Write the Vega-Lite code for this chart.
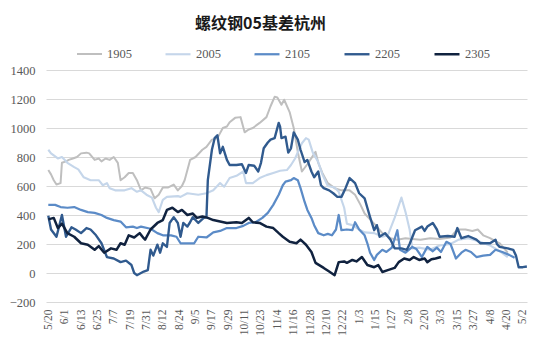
{
  "$schema": "https://vega.github.io/schema/vega-lite/v6.json",
  "width": 481,
  "height": 232,
  "autosize": {"type": "none"},
  "padding": {"left": 46, "top": 70, "right": 23, "bottom": 55},
  "background": "white",
  "title": {
    "text": "螺纹钢05基差杭州",
    "font": "Noto Sans CJK SC",
    "fontSize": 16,
    "fontWeight": "bold",
    "color": "#1a1a1a",
    "anchor": "middle",
    "dx": -26,
    "offset": 8
  },
  "data": {
    "values": [
      {"s":"1905","date":"2019-05-20","v":710},{"s":"1905","date":"2019-05-22","v":680},{"s":"1905","date":"2019-05-24","v":640},{"s":"1905","date":"2019-05-26","v":610},{"s":"1905","date":"2019-05-29","v":620},{"s":"1905","date":"2019-05-30","v":760},{"s":"1905","date":"2019-06-02","v":770},{"s":"1905","date":"2019-06-04","v":780},{"s":"1905","date":"2019-06-07","v":790},{"s":"1905","date":"2019-06-10","v":800},{"s":"1905","date":"2019-06-13","v":825},{"s":"1905","date":"2019-06-17","v":830},{"s":"1905","date":"2019-06-19","v":825},{"s":"1905","date":"2019-06-23","v":780},{"s":"1905","date":"2019-06-26","v":790},{"s":"1905","date":"2019-06-28","v":770},{"s":"1905","date":"2019-07-01","v":790},{"s":"1905","date":"2019-07-04","v":780},{"s":"1905","date":"2019-07-07","v":800},{"s":"1905","date":"2019-07-10","v":760},{"s":"1905","date":"2019-07-12","v":640},{"s":"1905","date":"2019-07-15","v":660},{"s":"1905","date":"2019-07-18","v":690},{"s":"1905","date":"2019-07-21","v":690},{"s":"1905","date":"2019-07-24","v":640},{"s":"1905","date":"2019-07-27","v":570},{"s":"1905","date":"2019-07-30","v":590},{"s":"1905","date":"2019-08-03","v":580},{"s":"1905","date":"2019-08-06","v":515},{"s":"1905","date":"2019-08-09","v":540},{"s":"1905","date":"2019-08-12","v":590},{"s":"1905","date":"2019-08-16","v":590},{"s":"1905","date":"2019-08-20","v":610},{"s":"1905","date":"2019-08-23","v":570},{"s":"1905","date":"2019-08-26","v":600},{"s":"1905","date":"2019-08-28","v":640},{"s":"1905","date":"2019-09-01","v":780},{"s":"1905","date":"2019-09-05","v":800},{"s":"1905","date":"2019-09-10","v":850},{"s":"1905","date":"2019-09-13","v":870},{"s":"1905","date":"2019-09-17","v":920},{"s":"1905","date":"2019-09-21","v":930},{"s":"1905","date":"2019-09-25","v":1000},{"s":"1905","date":"2019-09-28","v":1010},{"s":"1905","date":"2019-09-30","v":1040},{"s":"1905","date":"2019-10-04","v":1070},{"s":"1905","date":"2019-10-08","v":1075},{"s":"1905","date":"2019-10-11","v":970},{"s":"1905","date":"2019-10-14","v":990},{"s":"1905","date":"2019-10-17","v":1000},{"s":"1905","date":"2019-10-22","v":1035},{"s":"1905","date":"2019-10-27","v":1075},{"s":"1905","date":"2019-10-30","v":1150},{"s":"1905","date":"2019-11-02","v":1215},{"s":"1905","date":"2019-11-04","v":1210},{"s":"1905","date":"2019-11-07","v":1160},{"s":"1905","date":"2019-11-09","v":1195},{"s":"1905","date":"2019-11-13","v":1110},{"s":"1905","date":"2019-11-16","v":1000},{"s":"1905","date":"2019-11-19","v":835},{"s":"1905","date":"2019-11-22","v":700},{"s":"1905","date":"2019-11-26","v":750},{"s":"1905","date":"2019-12-02","v":835},{"s":"1905","date":"2019-12-04","v":760},{"s":"1905","date":"2019-12-07","v":690},{"s":"1905","date":"2019-12-11","v":620},{"s":"1905","date":"2019-12-16","v":585},{"s":"1905","date":"2019-12-21","v":570},{"s":"1905","date":"2019-12-27","v":570},{"s":"1905","date":"2019-12-31","v":540},{"s":"1905","date":"2020-01-04","v":470},{"s":"1905","date":"2020-01-07","v":410},{"s":"1905","date":"2020-01-11","v":370},{"s":"1905","date":"2020-01-15","v":330},{"s":"1905","date":"2020-01-20","v":275},{"s":"1905","date":"2020-01-26","v":240},{"s":"1905","date":"2020-01-31","v":230},{"s":"1905","date":"2020-02-06","v":240},{"s":"1905","date":"2020-02-11","v":235},{"s":"1905","date":"2020-02-17","v":230},{"s":"1905","date":"2020-02-24","v":240},{"s":"1905","date":"2020-03-02","v":235},{"s":"1905","date":"2020-03-10","v":245},{"s":"1905","date":"2020-03-15","v":300},{"s":"1905","date":"2020-03-21","v":300},{"s":"1905","date":"2020-03-26","v":290},{"s":"1905","date":"2020-03-30","v":300},{"s":"1905","date":"2020-04-03","v":260},{"s":"1905","date":"2020-04-08","v":240},{"s":"1905","date":"2020-04-15","v":205},{"s":"1905","date":"2020-04-21","v":140},

      {"s":"2005","date":"2019-05-20","v":850},{"s":"2005","date":"2019-05-22","v":825},{"s":"2005","date":"2019-05-27","v":790},{"s":"2005","date":"2019-05-30","v":800},{"s":"2005","date":"2019-06-03","v":760},{"s":"2005","date":"2019-06-08","v":730},{"s":"2005","date":"2019-06-11","v":715},{"s":"2005","date":"2019-06-15","v":660},{"s":"2005","date":"2019-06-20","v":640},{"s":"2005","date":"2019-06-26","v":640},{"s":"2005","date":"2019-06-29","v":605},{"s":"2005","date":"2019-07-02","v":620},{"s":"2005","date":"2019-07-04","v":585},{"s":"2005","date":"2019-07-08","v":570},{"s":"2005","date":"2019-07-15","v":570},{"s":"2005","date":"2019-07-20","v":585},{"s":"2005","date":"2019-07-24","v":560},{"s":"2005","date":"2019-07-27","v":570},{"s":"2005","date":"2019-07-31","v":540},{"s":"2005","date":"2019-08-04","v":520},{"s":"2005","date":"2019-08-07","v":450},{"s":"2005","date":"2019-08-09","v":420},{"s":"2005","date":"2019-08-12","v":505},{"s":"2005","date":"2019-08-15","v":525},{"s":"2005","date":"2019-08-23","v":530},{"s":"2005","date":"2019-08-25","v":525},{"s":"2005","date":"2019-08-30","v":550},{"s":"2005","date":"2019-09-07","v":540},{"s":"2005","date":"2019-09-13","v":550},{"s":"2005","date":"2019-09-18","v":570},{"s":"2005","date":"2019-09-23","v":620},{"s":"2005","date":"2019-09-26","v":595},{"s":"2005","date":"2019-09-30","v":655},{"s":"2005","date":"2019-10-05","v":670},{"s":"2005","date":"2019-10-10","v":700},{"s":"2005","date":"2019-10-12","v":620},{"s":"2005","date":"2019-10-17","v":620},{"s":"2005","date":"2019-10-22","v":655},{"s":"2005","date":"2019-10-27","v":675},{"s":"2005","date":"2019-11-01","v":690},{"s":"2005","date":"2019-11-06","v":705},{"s":"2005","date":"2019-11-11","v":710},{"s":"2005","date":"2019-11-14","v":745},{"s":"2005","date":"2019-11-17","v":790},{"s":"2005","date":"2019-11-22","v":895},{"s":"2005","date":"2019-11-25","v":930},{"s":"2005","date":"2019-11-27","v":920},{"s":"2005","date":"2019-11-30","v":830},{"s":"2005","date":"2019-12-04","v":765},{"s":"2005","date":"2019-12-07","v":680},{"s":"2005","date":"2019-12-11","v":600},{"s":"2005","date":"2019-12-16","v":590},{"s":"2005","date":"2019-12-19","v":560},{"s":"2005","date":"2019-12-23","v":450},{"s":"2005","date":"2019-12-25","v":340},{"s":"2005","date":"2019-12-29","v":330},{"s":"2005","date":"2020-01-03","v":300},{"s":"2005","date":"2020-01-07","v":280},{"s":"2005","date":"2020-01-14","v":275},{"s":"2005","date":"2020-01-20","v":250},{"s":"2005","date":"2020-01-24","v":260},{"s":"2005","date":"2020-01-29","v":380},{"s":"2005","date":"2020-02-03","v":520},{"s":"2005","date":"2020-02-06","v":420},{"s":"2005","date":"2020-02-09","v":300},{"s":"2005","date":"2020-02-11","v":170},{"s":"2005","date":"2020-02-16","v":175},{"s":"2005","date":"2020-02-24","v":160},{"s":"2005","date":"2020-03-02","v":190},{"s":"2005","date":"2020-03-10","v":200},{"s":"2005","date":"2020-03-16","v":230},{"s":"2005","date":"2020-03-23","v":240},{"s":"2005","date":"2020-03-30","v":220},{"s":"2005","date":"2020-04-08","v":190},{"s":"2005","date":"2020-04-15","v":150},{"s":"2005","date":"2020-04-21","v":110},

      {"s":"2105","date":"2019-05-20","v":470},{"s":"2105","date":"2019-05-25","v":470},{"s":"2105","date":"2019-05-29","v":455},{"s":"2105","date":"2019-06-03","v":450},{"s":"2105","date":"2019-06-08","v":455},{"s":"2105","date":"2019-06-13","v":435},{"s":"2105","date":"2019-06-18","v":420},{"s":"2105","date":"2019-06-23","v":415},{"s":"2105","date":"2019-06-28","v":400},{"s":"2105","date":"2019-07-02","v":380},{"s":"2105","date":"2019-07-07","v":365},{"s":"2105","date":"2019-07-12","v":355},{"s":"2105","date":"2019-07-16","v":315},{"s":"2105","date":"2019-07-21","v":320},{"s":"2105","date":"2019-07-24","v":310},{"s":"2105","date":"2019-07-27","v":320},{"s":"2105","date":"2019-08-03","v":305},{"s":"2105","date":"2019-08-08","v":275},{"s":"2105","date":"2019-08-12","v":260},{"s":"2105","date":"2019-08-18","v":260},{"s":"2105","date":"2019-08-22","v":250},{"s":"2105","date":"2019-08-25","v":205},{"s":"2105","date":"2019-08-30","v":205},{"s":"2105","date":"2019-09-04","v":205},{"s":"2105","date":"2019-09-07","v":250},{"s":"2105","date":"2019-09-13","v":245},{"s":"2105","date":"2019-09-18","v":280},{"s":"2105","date":"2019-09-23","v":290},{"s":"2105","date":"2019-09-28","v":310},{"s":"2105","date":"2019-10-05","v":310},{"s":"2105","date":"2019-10-10","v":325},{"s":"2105","date":"2019-10-14","v":345},{"s":"2105","date":"2019-10-19","v":350},{"s":"2105","date":"2019-10-24","v":380},{"s":"2105","date":"2019-10-28","v":415},{"s":"2105","date":"2019-11-01","v":470},{"s":"2105","date":"2019-11-05","v":540},{"s":"2105","date":"2019-11-08","v":605},{"s":"2105","date":"2019-11-10","v":630},{"s":"2105","date":"2019-11-14","v":640},{"s":"2105","date":"2019-11-16","v":655},{"s":"2105","date":"2019-11-19","v":640},{"s":"2105","date":"2019-11-21","v":585},{"s":"2105","date":"2019-11-24","v":490},{"s":"2105","date":"2019-11-26","v":435},{"s":"2105","date":"2019-11-29","v":380},{"s":"2105","date":"2019-12-01","v":330},{"s":"2105","date":"2019-12-04","v":275},{"s":"2105","date":"2019-12-08","v":260},{"s":"2105","date":"2019-12-11","v":270},{"s":"2105","date":"2019-12-14","v":260},{"s":"2105","date":"2019-12-17","v":300},{"s":"2105","date":"2019-12-19","v":400},{"s":"2105","date":"2019-12-21","v":295},{"s":"2105","date":"2019-12-25","v":300},{"s":"2105","date":"2019-12-29","v":295},{"s":"2105","date":"2019-12-31","v":350},{"s":"2105","date":"2020-01-03","v":300},{"s":"2105","date":"2020-01-07","v":260},{"s":"2105","date":"2020-01-09","v":205},{"s":"2105","date":"2020-01-11","v":140},{"s":"2105","date":"2020-01-14","v":90},{"s":"2105","date":"2020-01-16","v":125},{"s":"2105","date":"2020-01-20","v":160},{"s":"2105","date":"2020-01-23","v":145},{"s":"2105","date":"2020-01-27","v":175},{"s":"2105","date":"2020-01-31","v":295},{"s":"2105","date":"2020-02-02","v":160},{"s":"2105","date":"2020-02-06","v":140},{"s":"2105","date":"2020-02-11","v":180},{"s":"2105","date":"2020-02-14","v":165},{"s":"2105","date":"2020-02-18","v":110},{"s":"2105","date":"2020-02-22","v":180},{"s":"2105","date":"2020-02-26","v":150},{"s":"2105","date":"2020-02-29","v":175},{"s":"2105","date":"2020-03-03","v":145},{"s":"2105","date":"2020-03-07","v":215},{"s":"2105","date":"2020-03-10","v":200},{"s":"2105","date":"2020-03-14","v":100},{"s":"2105","date":"2020-03-18","v":140},{"s":"2105","date":"2020-03-21","v":160},{"s":"2105","date":"2020-03-25","v":145},{"s":"2105","date":"2020-03-29","v":110},{"s":"2105","date":"2020-04-03","v":120},{"s":"2105","date":"2020-04-08","v":125},{"s":"2105","date":"2020-04-12","v":160},{"s":"2105","date":"2020-04-17","v":145},{"s":"2105","date":"2020-04-22","v":125},{"s":"2105","date":"2020-04-26","v":105},

      {"s":"2205","date":"2019-05-20","v":395},{"s":"2205","date":"2019-05-22","v":300},{"s":"2205","date":"2019-05-26","v":250},{"s":"2205","date":"2019-05-30","v":400},{"s":"2205","date":"2019-06-02","v":250},{"s":"2205","date":"2019-06-06","v":315},{"s":"2205","date":"2019-06-09","v":300},{"s":"2205","date":"2019-06-13","v":275},{"s":"2205","date":"2019-06-17","v":310},{"s":"2205","date":"2019-06-20","v":300},{"s":"2205","date":"2019-06-24","v":260},{"s":"2205","date":"2019-06-28","v":205},{"s":"2205","date":"2019-07-02","v":110},{"s":"2205","date":"2019-07-07","v":100},{"s":"2205","date":"2019-07-12","v":75},{"s":"2205","date":"2019-07-16","v":85},{"s":"2205","date":"2019-07-20","v":55},{"s":"2205","date":"2019-07-22","v":0},{"s":"2205","date":"2019-07-24","v":-15},{"s":"2205","date":"2019-07-29","v":10},{"s":"2205","date":"2019-08-01","v":20},{"s":"2205","date":"2019-08-03","v":160},{"s":"2205","date":"2019-08-05","v":120},{"s":"2205","date":"2019-08-08","v":195},{"s":"2205","date":"2019-08-10","v":140},{"s":"2205","date":"2019-08-12","v":205},{"s":"2205","date":"2019-08-15","v":180},{"s":"2205","date":"2019-08-17","v":345},{"s":"2205","date":"2019-08-20","v":385},{"s":"2205","date":"2019-08-23","v":345},{"s":"2205","date":"2019-08-25","v":250},{"s":"2205","date":"2019-08-27","v":345},{"s":"2205","date":"2019-08-30","v":320},{"s":"2205","date":"2019-09-01","v":350},{"s":"2205","date":"2019-09-03","v":385},{"s":"2205","date":"2019-09-07","v":345},{"s":"2205","date":"2019-09-11","v":380},{"s":"2205","date":"2019-09-13","v":385},{"s":"2205","date":"2019-09-14","v":640},{"s":"2205","date":"2019-09-17","v":850},{"s":"2205","date":"2019-09-19","v":930},{"s":"2205","date":"2019-09-21","v":950},{"s":"2205","date":"2019-09-23","v":825},{"s":"2205","date":"2019-09-25","v":870},{"s":"2205","date":"2019-09-28","v":780},{"s":"2205","date":"2019-09-30","v":745},{"s":"2205","date":"2019-10-05","v":745},{"s":"2205","date":"2019-10-09","v":750},{"s":"2205","date":"2019-10-12","v":690},{"s":"2205","date":"2019-10-14","v":745},{"s":"2205","date":"2019-10-18","v":740},{"s":"2205","date":"2019-10-21","v":700},{"s":"2205","date":"2019-10-23","v":760},{"s":"2205","date":"2019-10-25","v":860},{"s":"2205","date":"2019-10-28","v":900},{"s":"2205","date":"2019-10-30","v":920},{"s":"2205","date":"2019-11-02","v":930},{"s":"2205","date":"2019-11-05","v":1035},{"s":"2205","date":"2019-11-06","v":1010},{"s":"2205","date":"2019-11-07","v":930},{"s":"2205","date":"2019-11-10","v":940},{"s":"2205","date":"2019-11-12","v":830},{"s":"2205","date":"2019-11-14","v":860},{"s":"2205","date":"2019-11-16","v":970},{"s":"2205","date":"2019-11-19","v":920},{"s":"2205","date":"2019-11-21","v":850},{"s":"2205","date":"2019-11-24","v":765},{"s":"2205","date":"2019-11-26","v":780},{"s":"2205","date":"2019-11-29","v":700},{"s":"2205","date":"2019-12-01","v":660},{"s":"2205","date":"2019-12-04","v":700},{"s":"2205","date":"2019-12-06","v":605},{"s":"2205","date":"2019-12-08","v":585},{"s":"2205","date":"2019-12-12","v":570},{"s":"2205","date":"2019-12-15","v":550},{"s":"2205","date":"2019-12-18","v":525},{"s":"2205","date":"2019-12-21","v":525},{"s":"2205","date":"2019-12-24","v":585},{"s":"2205","date":"2019-12-27","v":655},{"s":"2205","date":"2019-12-31","v":620},{"s":"2205","date":"2020-01-03","v":550},{"s":"2205","date":"2020-01-07","v":515},{"s":"2205","date":"2020-01-09","v":450},{"s":"2205","date":"2020-01-11","v":385},{"s":"2205","date":"2020-01-14","v":295},{"s":"2205","date":"2020-01-16","v":330},{"s":"2205","date":"2020-01-18","v":250},{"s":"2205","date":"2020-01-22","v":275},{"s":"2205","date":"2020-01-26","v":230},{"s":"2205","date":"2020-01-29","v":170},{"s":"2205","date":"2020-02-03","v":170},{"s":"2205","date":"2020-02-07","v":160},{"s":"2205","date":"2020-02-09","v":200},{"s":"2205","date":"2020-02-13","v":295},{"s":"2205","date":"2020-02-18","v":320},{"s":"2205","date":"2020-02-20","v":290},{"s":"2205","date":"2020-02-22","v":320},{"s":"2205","date":"2020-02-26","v":345},{"s":"2205","date":"2020-02-29","v":300},{"s":"2205","date":"2020-03-02","v":250},{"s":"2205","date":"2020-03-08","v":255},{"s":"2205","date":"2020-03-13","v":250},{"s":"2205","date":"2020-03-15","v":310},{"s":"2205","date":"2020-03-18","v":240},{"s":"2205","date":"2020-03-23","v":255},{"s":"2205","date":"2020-03-29","v":230},{"s":"2205","date":"2020-04-01","v":205},{"s":"2205","date":"2020-04-08","v":205},{"s":"2205","date":"2020-04-12","v":230},{"s":"2205","date":"2020-04-13","v":200},{"s":"2205","date":"2020-04-15","v":180},{"s":"2205","date":"2020-04-21","v":170},{"s":"2205","date":"2020-04-25","v":160},{"s":"2205","date":"2020-04-27","v":120},{"s":"2205","date":"2020-04-29","v":40},{"s":"2205","date":"2020-05-02","v":40},{"s":"2205","date":"2020-05-05","v":45},

      {"s":"2305","date":"2019-05-20","v":370},{"s":"2305","date":"2019-05-24","v":380},{"s":"2305","date":"2019-05-27","v":310},{"s":"2305","date":"2019-05-30","v":340},{"s":"2305","date":"2019-06-03","v":275},{"s":"2305","date":"2019-06-08","v":250},{"s":"2305","date":"2019-06-13","v":205},{"s":"2305","date":"2019-06-18","v":195},{"s":"2305","date":"2019-06-23","v":160},{"s":"2305","date":"2019-06-26","v":185},{"s":"2305","date":"2019-06-30","v":140},{"s":"2305","date":"2019-07-05","v":170},{"s":"2305","date":"2019-07-09","v":160},{"s":"2305","date":"2019-07-12","v":205},{"s":"2305","date":"2019-07-15","v":195},{"s":"2305","date":"2019-07-18","v":260},{"s":"2305","date":"2019-07-22","v":245},{"s":"2305","date":"2019-07-26","v":275},{"s":"2305","date":"2019-07-29","v":240},{"s":"2305","date":"2019-07-30","v":230},{"s":"2305","date":"2019-08-03","v":300},{"s":"2305","date":"2019-08-08","v":345},{"s":"2305","date":"2019-08-12","v":365},{"s":"2305","date":"2019-08-15","v":435},{"s":"2305","date":"2019-08-19","v":450},{"s":"2305","date":"2019-08-23","v":420},{"s":"2305","date":"2019-08-26","v":435},{"s":"2305","date":"2019-08-30","v":400},{"s":"2305","date":"2019-09-03","v":410},{"s":"2305","date":"2019-09-06","v":380},{"s":"2305","date":"2019-09-10","v":390},{"s":"2305","date":"2019-09-14","v":380},{"s":"2305","date":"2019-09-18","v":365},{"s":"2305","date":"2019-09-23","v":355},{"s":"2305","date":"2019-09-28","v":345},{"s":"2305","date":"2019-10-05","v":350},{"s":"2305","date":"2019-10-09","v":345},{"s":"2305","date":"2019-10-14","v":380},{"s":"2305","date":"2019-10-17","v":350},{"s":"2305","date":"2019-10-22","v":345},{"s":"2305","date":"2019-10-27","v":320},{"s":"2305","date":"2019-11-01","v":310},{"s":"2305","date":"2019-11-05","v":275},{"s":"2305","date":"2019-11-08","v":250},{"s":"2305","date":"2019-11-13","v":215},{"s":"2305","date":"2019-11-18","v":205},{"s":"2305","date":"2019-11-21","v":230},{"s":"2305","date":"2019-11-25","v":195},{"s":"2305","date":"2019-11-29","v":145},{"s":"2305","date":"2019-12-02","v":70},{"s":"2305","date":"2019-12-08","v":35},{"s":"2305","date":"2019-12-12","v":10},{"s":"2305","date":"2019-12-16","v":-15},{"s":"2305","date":"2019-12-19","v":75},{"s":"2305","date":"2019-12-23","v":80},{"s":"2305","date":"2019-12-25","v":70},{"s":"2305","date":"2019-12-29","v":90},{"s":"2305","date":"2020-01-01","v":80},{"s":"2305","date":"2020-01-05","v":110},{"s":"2305","date":"2020-01-09","v":55},{"s":"2305","date":"2020-01-14","v":40},{"s":"2305","date":"2020-01-17","v":55},{"s":"2305","date":"2020-01-20","v":7},{"s":"2305","date":"2020-01-24","v":20},{"s":"2305","date":"2020-01-29","v":35},{"s":"2305","date":"2020-02-01","v":75},{"s":"2305","date":"2020-02-05","v":100},{"s":"2305","date":"2020-02-09","v":90},{"s":"2305","date":"2020-02-12","v":110},{"s":"2305","date":"2020-02-16","v":90},{"s":"2305","date":"2020-02-20","v":100},{"s":"2305","date":"2020-02-22","v":75},{"s":"2305","date":"2020-02-25","v":95},{"s":"2305","date":"2020-02-28","v":100},{"s":"2305","date":"2020-03-03","v":110}
    ]
  },
  "mark": {"type": "line", "strokeJoin": "round", "interpolate": "linear"},
  "encoding": {
    "x": {
      "field": "date",
      "type": "temporal",
      "scale": {
        "type": "utc",
        "domain": [
          {"year": 2019, "month": 5, "date": 18, "hours": 7, "minutes": 30, "utc": true},
          {"year": 2020, "month": 5, "date": 5, "hours": 2, "minutes": 24, "utc": true}
        ]
      },
      "axis": {
        "title": null,
        "grid": false,
        "domain": false,
        "ticks": false,
        "labelAngle": 270,
        "labelAlign": "right",
        "labelBaseline": "middle",
        "labelPadding": 7,
        "labelFont": "Times New Roman, Liberation Serif, serif",
        "labelFontSize": 11.5,
        "labelColor": "#595959",
        "labelOverlap": false,
        "labelFlush": false,
        "labelExpr": "utcFormat(datum.value, '%-m/%-d')",
        "values": [
          {"year": 2019, "month": 5, "date": 20, "utc": true},
          {"year": 2019, "month": 6, "date": 1, "utc": true},
          {"year": 2019, "month": 6, "date": 13, "utc": true},
          {"year": 2019, "month": 6, "date": 25, "utc": true},
          {"year": 2019, "month": 7, "date": 7, "utc": true},
          {"year": 2019, "month": 7, "date": 19, "utc": true},
          {"year": 2019, "month": 7, "date": 31, "utc": true},
          {"year": 2019, "month": 8, "date": 12, "utc": true},
          {"year": 2019, "month": 8, "date": 24, "utc": true},
          {"year": 2019, "month": 9, "date": 5, "utc": true},
          {"year": 2019, "month": 9, "date": 17, "utc": true},
          {"year": 2019, "month": 9, "date": 29, "utc": true},
          {"year": 2019, "month": 10, "date": 11, "utc": true},
          {"year": 2019, "month": 10, "date": 23, "utc": true},
          {"year": 2019, "month": 11, "date": 4, "utc": true},
          {"year": 2019, "month": 11, "date": 16, "utc": true},
          {"year": 2019, "month": 11, "date": 28, "utc": true},
          {"year": 2019, "month": 12, "date": 10, "utc": true},
          {"year": 2019, "month": 12, "date": 22, "utc": true},
          {"year": 2020, "month": 1, "date": 3, "utc": true},
          {"year": 2020, "month": 1, "date": 15, "utc": true},
          {"year": 2020, "month": 1, "date": 27, "utc": true},
          {"year": 2020, "month": 2, "date": 8, "utc": true},
          {"year": 2020, "month": 2, "date": 20, "utc": true},
          {"year": 2020, "month": 3, "date": 3, "utc": true},
          {"year": 2020, "month": 3, "date": 15, "utc": true},
          {"year": 2020, "month": 3, "date": 27, "utc": true},
          {"year": 2020, "month": 4, "date": 8, "utc": true},
          {"year": 2020, "month": 4, "date": 20, "utc": true},
          {"year": 2020, "month": 5, "date": 2, "utc": true}
        ]
      }
    },
    "y": {
      "field": "v",
      "type": "quantitative",
      "scale": {"domain": [-200, 1400], "nice": false},
      "axis": {
        "title": null,
        "values": [-200, 0, 200, 400, 600, 800, 1000, 1200, 1400],
        "format": "d",
        "domain": false,
        "ticks": false,
        "grid": true,
        "gridColor": "#D9D9D9",
        "gridWidth": 1,
        "labelPadding": 11,
        "labelFont": "Times New Roman, Liberation Serif, serif",
        "labelFontSize": 12.5,
        "labelColor": "#595959"
      }
    },
    "color": {
      "field": "s",
      "type": "nominal",
      "scale": {
        "domain": ["1905", "2005", "2105", "2205", "2305"],
        "range": ["#BFBFBF", "#C5D6EA", "#5B8BC7", "#305A8E", "#10223F"]
      },
      "legend": {
        "title": null,
        "orient": "none",
        "direction": "horizontal",
        "legendX": 30,
        "legendY": -30,
        "padding": 0,
        "symbolType": "stroke",
        "symbolSize": 625,
        "symbolStrokeWidth": 3,
        "labelFont": "Times New Roman, Liberation Serif, serif",
        "labelFontSize": 12.5,
        "labelColor": "#595959",
        "labelOffset": 4,
        "columnPadding": 29
      }
    },
    "strokeWidth": {
      "field": "s",
      "type": "nominal",
      "scale": {
        "domain": ["1905", "2005", "2105", "2205", "2305"],
        "range": [2, 2.5, 2, 3, 3.5]
      },
      "legend": null
    }
  },
  "config": {
    "view": {"stroke": null}
  }
}
